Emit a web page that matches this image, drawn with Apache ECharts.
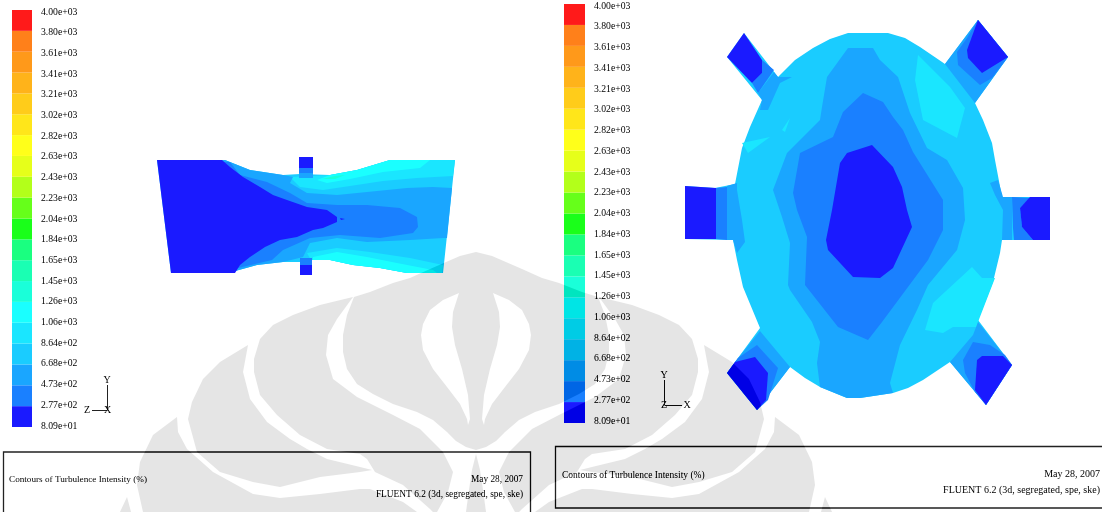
<!DOCTYPE html>
<html><head><meta charset="utf-8">
<style>html,body{margin:0;padding:0;background:#fff}#c{width:1102px;height:512px;filter:blur(0.35px)}</style>
<script src="https://cdn.jsdelivr.net/npm/echarts@6/dist/echarts.min.js"></script>
</head><body><div id="c"></div>
<script>
// Legend: 20 contour bands (bottom to top) and the 21 tick labels
const bandColors = ['#1a1aff','#1a80ff','#1aa6ff','#1accff','#1ae6ff','#1affff','#1affd9','#1affb3','#1aff80','#1aff1a',
  '#66ff1a','#b3ff1a','#e6ff1a','#ffff1a','#ffe61a','#ffcc1a','#ffb31a','#ff991a','#ff801a','#ff1a1a'];
const tickLabels = ['8.09e+01','2.77e+02','4.73e+02','6.68e+02','8.64e+02','1.06e+03','1.26e+03','1.45e+03','1.65e+03','1.84e+03',
  '2.04e+03','2.23e+03','2.43e+03','2.63e+03','2.82e+03','3.02e+03','3.21e+03','3.41e+03','3.61e+03','3.80e+03','4.00e+03'];
const captionTitle = 'Contours of Turbulence Intensity (%)';
const captionDate = 'May 28, 2007';
const captionSolver = 'FLUENT 6.2 (3d, segregated, spe, ske)';

// Side view contours (x, y in picture units)
const sideBody = [[157,160],[225,160],[250,170],[283,175],[300,174],[330,175],[357,170],[390,160],[455,160],[443,273],[407,273],[380,268],[353,265],[330,260],[311,260],[300,262],[283,262],[257,265],[228,273],[171,273]];
const sideTopC4 = [[290,177],[330,175],[357,170],[390,160],[455,160],[453,176],[417,178],[383,181],[350,186],[323,190],[300,187]];
const sideTopC5 = [[317,180],[330,175],[357,170],[390,160],[430,160],[420,168],[383,172],[350,179],[327,183]];
const sideTopC6 = [[322,179],[335,176],[345,175],[335,179]];
const sideC2 = [[200,160],[225,160],[250,170],[283,175],[293,177],[290,183],[307,193],[337,195],[367,192],[407,188],[433,187],[452,188],[447,238],[443,238],[410,240],[367,242],[337,238],[310,243],[303,257],[283,262],[257,265],[228,273],[200,273]];
const sideBottomC4 = [[307,253],[337,248],[370,252],[410,258],[443,265],[442,273],[407,273],[380,268],[353,265],[330,260],[311,260]];
const sideBottomC5 = [[313,257],[337,252],[367,257],[397,263],[433,270],[437,273],[407,273],[380,268],[353,265],[330,260],[313,260]];
const sideC1 = [[210,162],[230,162],[240,175],[267,182],[290,193],[307,203],[337,205],[367,205],[400,208],[417,217],[418,227],[413,233],[380,238],[340,235],[310,238],[283,250],[272,260],[238,268],[210,273]];
const sideC0 = [[157,160],[222,160],[230,167],[243,177],[260,187],[273,195],[287,200],[307,207],[327,210],[337,217],[337,222],[323,228],[313,230],[297,237],[280,240],[265,247],[250,257],[240,265],[235,273],[171,273]];
const sideDot = [[340,218],[345,219],[341,220]];
const sideFinTopC2 = [[299,168],[313,168],[313,178],[299,178]];
const sideFinTopC1 = [[299,168],[313,168],[313,173],[299,173]];
const sideFinTopC0 = [[299,157],[313,157],[313,168],[299,168]];
const sideFinBottomC1 = [[300,258],[312,258],[312,266],[300,266]];
const sideFinBottomC0 = [[300,265],[312,265],[312,275],[300,275]];

// Front view contours
const frontBody = [[848,33],[888,33],[905,38],[920,47],[945,64],[978,20],[1008,57],[975,103],[983,120],[992,143],[995,160],[1002,197],[1050,197],[1050,240],[1002,240],[1000,253],[993,282],[978,320],[1012,365],[986,405],[950,362],[923,380],[908,388],[893,393],[860,398],[847,398],[820,387],[805,378],[790,367],[757,410],[727,373],[760,328],[743,287],[737,260],[733,240],[685,239],[685,186],[715,188],[735,184],[742,148],[750,127],[762,100],[727,57],[744,33],[778,77],[795,60],[813,48],[830,39]];
const frontC2 = [[848,48],[873,48],[880,60],[898,77],[910,113],[927,148],[947,160],[963,188],[965,220],[957,250],[928,285],[917,310],[900,345],[890,383],[893,393],[860,398],[847,398],[820,387],[817,363],[820,342],[812,322],[790,290],[788,285],[790,243],[782,217],[773,190],[787,153],[820,120],[822,107],[827,77]];
const frontC1 = [[863,93],[883,102],[893,117],[903,130],[913,152],[943,200],[943,230],[928,260],[882,322],[868,340],[838,327],[805,285],[807,237],[797,210],[793,193],[800,153],[833,137],[843,112]];
const frontC0 = [[872,145],[893,167],[902,187],[907,210],[912,227],[893,268],[880,278],[853,277],[828,250],[826,240],[832,210],[840,163],[847,153]];
const frontPatchTR = [[918,55],[915,80],[923,120],[957,138],[965,108],[950,87]];
const frontPatchSmallA = [[790,118],[782,130],[785,132]];
const frontPatchSmallB = [[742,143],[770,137],[748,153]];
const frontPatchBR = [[972,267],[982,278],[995,278],[978,322],[977,327],[953,327],[943,333],[925,330],[933,303]];
const finLeftC0 = [[685,186],[716,188],[716,239],[685,239]];
const finLeftC1 = [[716,188],[727,187],[727,240],[716,239]];
const finLeftC2 = [[727,186],[737,183],[737,190],[742,220],[745,242],[737,253],[733,240],[727,240]];
const finRightC2 = [[990,183],[998,180],[1003,197],[1012,197],[1012,240],[1002,240],[1003,210],[995,195]];
const finRightC1 = [[1012,197],[1030,198],[1020,208],[1022,227],[1033,240],[1014,240],[1013,228]];
const finRightC0 = [[1030,197],[1050,197],[1050,240],[1033,240],[1022,227],[1020,208]];
const finTLC2 = [[774,72],[778,77],[792,77],[780,83],[768,110],[760,110],[762,100],[758,93]];
const finTLC1 = [[762,60],[774,70],[758,93],[752,83],[762,73]];
const finTLC0 = [[727,57],[744,33],[762,60],[762,73],[752,83]];
const finTRC2 = [[945,64],[978,20],[1008,57],[975,103]];
const finTRC1 = [[967,38],[957,52],[958,65],[980,85],[992,78],[1008,57],[978,20]];
const finTRC0 = [[978,20],[1008,57],[982,73],[968,58],[967,50]];
const finBLC2 = [[735,362],[760,331],[790,367],[757,410]];
const finBLC1 = [[738,358],[757,345],[778,368],[768,400],[757,410],[727,373]];
const finBLC0 = [[735,362],[755,357],[768,373],[766,400],[757,410],[727,373]];
const finBRC2 = [[950,362],[973,335],[978,322],[1012,365],[986,405]];
const finBRC1 = [[963,360],[973,342],[990,345],[1005,355],[1012,365],[986,405],[975,392],[965,373]];
const finBRC0 = [[977,360],[982,356],[1003,356],[1012,365],[986,405],[975,390]];

// Each region: outline and contour band it belongs to, painted back to front
const regions = [
  [sideBody,3],[sideTopC4,4],[sideTopC5,5],[sideTopC6,6],[sideBottomC4,4],[sideBottomC5,5],[sideC2,2],[sideC1,1],[sideC0,0],[sideDot,0],
  [sideFinTopC2,2],[sideFinTopC1,1],[sideFinTopC0,0],[sideFinBottomC1,1],[sideFinBottomC0,0],
  [frontBody,3],[frontC2,2],[frontC1,1],[frontC0,0],[frontPatchTR,4],[frontPatchSmallA,4],[frontPatchSmallB,4],[frontPatchBR,4],
  [finLeftC0,0],[finLeftC1,1],[finLeftC2,2],[finRightC2,2],[finRightC1,1],[finRightC0,0],
  [finTLC2,2],[finTLC1,1],[finTLC0,0],[finTRC2,2],[finTRC1,1],[finTRC0,0],
  [finBLC2,2],[finBLC1,1],[finBLC0,0],[finBRC2,2],[finBRC1,1],[finBRC0,0]
];

// Watermark emblem: left half outlines, mirrored about its axis
const emblemAxis = 476;
const emblemCore = [[476,252],[460,256],[430,269],[410,278],[393,283],[370,292],[354,297],[347,315],[343,335],[343,352],[347,369],[357,384],[373,394],[393,404],[417,412],[433,420],[447,432],[456,441],[466,447],[476,450],[476,425],[468,425],
  [467,419],[460,404],[447,387],[433,369],[423,350],[421,335],[423,324],[430,310],[443,300],[459,293],[453,312],[452,327],[455,345],[462,369],[468,395],[470,419],[468,425],[476,425]];
const emblemLobe2 = [[353,297],[320,305],[293,315],[273,325],[260,339],[254,359],[254,372],[260,395],[277,415],[300,435],[327,449],[360,454],[367,459],[375,472],[403,485],[430,509],[433,512],[437,512],[448,492],[453,472],[443,452],[420,429],[393,415],[357,397],[333,379],[326,355],[328,335],[337,319]];
const emblemLobe3 = [[248,345],[243,372],[250,399],[267,422],[290,439],[307,449],[327,459],[360,467],[372,470],[360,472],[320,477],[280,487],[253,482],[220,472],[197,452],[188,419],[192,402],[203,379],[220,362]];
const emblemLobe4 = [[177,417],[178,432],[187,449],[213,472],[253,494],[280,498],[320,494],[360,489],[370,489],[403,502],[417,512],[143,512],[137,485],[140,462],[153,435]];
const emblemLobe5 = [[120,512],[127,497],[131,512]];
const emblemStem = [[476,454],[472,470],[469,490],[466,512],[476,512]];
const emblemHalves = [emblemCore,emblemLobe2,emblemLobe3,emblemLobe4,emblemLobe5,emblemStem];
const emblem = emblemHalves.concat(emblemHalves.map(h => h.map(p => [2*emblemAxis-p[0],p[1]])));

const font = 'Liberation Serif';
const chart = echarts.init(document.getElementById('c'), null, {renderer:'canvas'});

const regionItem = (params, api) => {
  const r = regions[api.value(0)];
  return {type:'polygon', shape:{points:r[0].map(p=>api.coord(p))}, style:{fill:bandColors[r[1]]}};
};
const emblemItem = (params, api) => ({type:'polygon',
  shape:{points:emblem[api.value(0)].map(p=>api.coord(p))}, style:{fill:'rgb(26,26,26)'}});
const bandItem = (params, api) => {
  const i = api.value(0);
  const a = api.coord([0,i]), b = api.coord([1,i+1]);
  return {type:'rect', shape:{x:a[0],y:b[1],width:b[0]-a[0],height:a[1]-b[1]}, style:{fill:bandColors[i]}};
};
const hiddenX = i => ({type:'value',gridIndex:i,min:0,max:1,show:false});
const labelAxis = i => ({type:'category',gridIndex:i,position:'right',boundaryGap:false,data:tickLabels,
  axisLine:{show:false},axisTick:{show:false},splitLine:{show:false},
  axisLabel:{interval:0,margin:9,fontFamily:font,fontSize:9.7,color:'#000'}});
const bandAxis = i => ({type:'value',gridIndex:i,min:0,max:20,interval:1,show:false});
const bandIdx = bandColors.map((c,i)=>[i]);
const text = (x,y,t,align,size) => ({type:'text',x,y,style:{text:t,fontFamily:font,fontSize:size||10,fill:'#000',align:align||'left',verticalAlign:'middle'}});
const line = (x1,y1,x2,y2,w) => ({type:'line',shape:{x1,y1,x2,y2},style:{stroke:'#222',lineWidth:w||1}});

chart.setOption({
  backgroundColor:'#fff', animation:false,
  grid:[
    {left:0,top:0,width:1102,height:512},
    {left:12,top:10,width:20,height:417},
    {left:12,top:12,width:20,height:414},
    {left:564,top:4,width:21,height:419},
    {left:564,top:6,width:21,height:415}
  ],
  xAxis:[{type:'value',gridIndex:0,min:0,max:1102,show:false},hiddenX(1),hiddenX(2),hiddenX(3),hiddenX(4)],
  yAxis:[{type:'value',gridIndex:0,min:0,max:512,inverse:true,show:false},bandAxis(1),labelAxis(2),bandAxis(3),labelAxis(4)],
  series:[
    {type:'custom',xAxisIndex:0,yAxisIndex:0,clip:false,z:2,data:regions.map((r,i)=>[i]),renderItem:regionItem},
    {type:'custom',xAxisIndex:1,yAxisIndex:1,z:2,data:bandIdx,encode:{y:0},renderItem:bandItem},
    {type:'custom',xAxisIndex:3,yAxisIndex:3,z:2,data:bandIdx,encode:{y:0},renderItem:bandItem},
    {type:'custom',xAxisIndex:0,yAxisIndex:0,clip:false,z:50,silent:true,blendMode:'difference',data:emblem.map((r,i)=>[i]),renderItem:emblemItem}
  ],
  graphic:{elements:[
    {type:'rect',shape:{x:3.5,y:452,width:527,height:80},style:{fill:'none',stroke:'#222',lineWidth:1.3}},
    {type:'rect',shape:{x:555.5,y:446.5,width:600,height:61.5},style:{fill:'none',stroke:'#222',lineWidth:1.3}},
    text(9,480,captionTitle,'left',9.2), text(523,480,captionDate,'right',9.3), text(523,495,captionSolver,'right',9.4),
    text(562,475,captionTitle,'left',9.5), text(1100,474,captionDate,'right'), text(1100,490,captionSolver,'right'),
    line(107.5,385,107.5,410), line(92,410.5,107.5,410.5),
    text(107,380,'Y','center'), text(87,410,'Z','center'), text(107.5,410,'X','center'),
    line(664.5,380,664.5,405), line(664.5,405.5,682,405.5),
    text(664,375,'Y','center'), text(664,405.5,'Z','center'), text(687,405.5,'X','center')
  ]}
});
</script></body></html>
